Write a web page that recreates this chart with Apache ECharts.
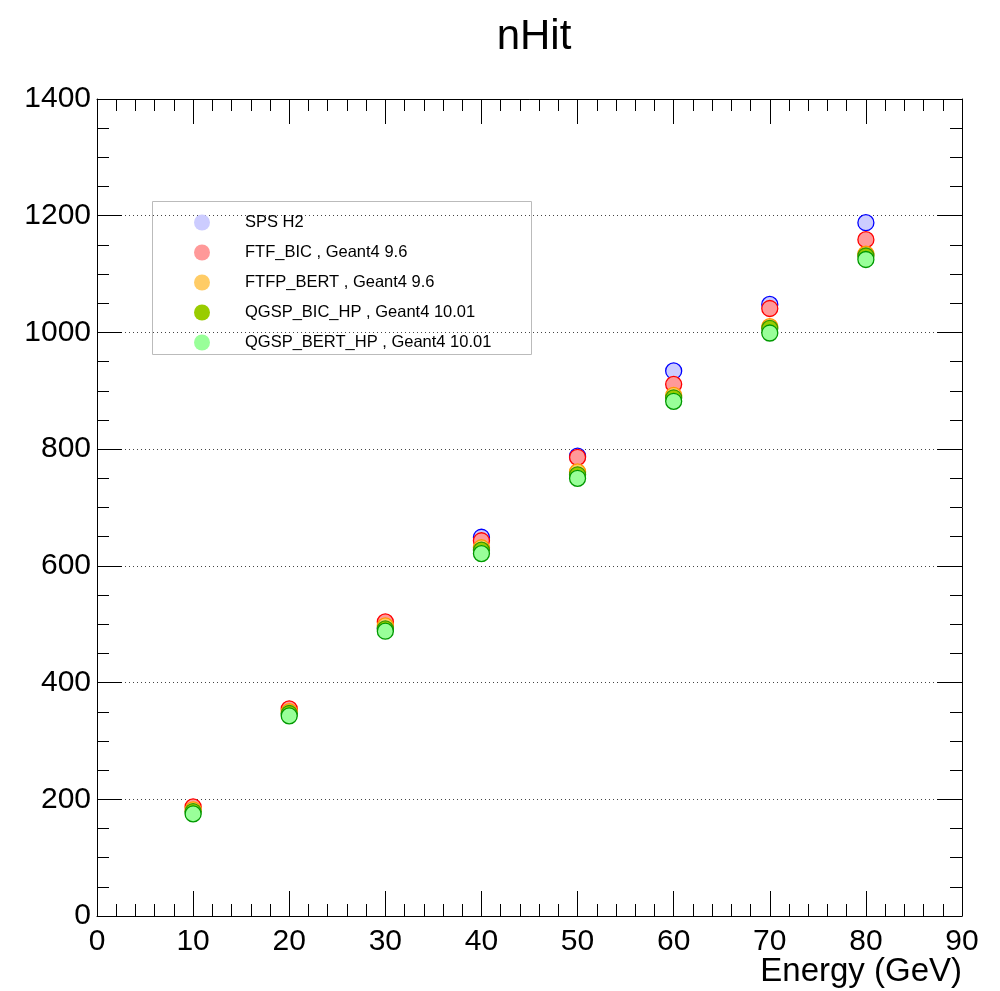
<!DOCTYPE html>
<html><head><meta charset="utf-8">
<script src="https://cdn.jsdelivr.net/npm/echarts@6/dist/echarts.min.js"></script>
<style>html,body{margin:0;padding:0;background:#fff}#c{width:1000px;height:991px}</style>
</head><body><div id="c"></div>
<script>
var energies = [10, 20, 30, 40, 50, 60, 70, 80];
var seriesNames = ['SPS H2', 'FTF_BIC , Geant4 9.6', 'FTFP_BERT , Geant4 9.6', 'QGSP_BIC_HP , Geant4 10.01', 'QGSP_BERT_HP , Geant4 10.01'];
var spsH2      = [null, null, 493, 649, 788, 934, 1048, 1188];
var ftfBic     = [187, 355, 504, 643, 786, 911, 1041, 1159];
var ftfpBert   = [182, 350, 497, 631, 761, 892, 1010, 1134];
var qgspBicHp  = [179, 347, 492, 627, 756, 888, 1007, 1131];
var qgspBertHp = [175, 343, 488, 621, 750, 882, 999, 1125];
var xAxisTitle = 'Energy (GeV)';
var fills   = ['#ccccff', '#ff9999', '#ffcc66', '#99cc00', '#99ff99'];
var borders = ['#0000ff', '#ff0000', '#ff9900', '#339900', '#009900'];
var allValues = [spsH2, ftfBic, ftfpBert, qgspBicHp, qgspBertHp];

var font = 'Liberation Sans, Arial, Helvetica, sans-serif';
var chart = echarts.init(document.getElementById('c'));
var series = allValues.map(function (vals, i) {
  return {
    name: seriesNames[i], type: 'scatter', symbol: 'circle', symbolSize: 16,
    itemStyle: { color: fills[i], borderColor: borders[i], borderWidth: 1.3, opacity: 1 },
    data: energies.map(function (e, j) { return vals[j] == null ? null : [e, vals[j]]; }),
    z: 3 + i
  };
});
var axisLine = { show: true, onZero: false, lineStyle: { color: '#000', width: 1 } };
var tick = { inside: true, length: 25, lineStyle: { color: '#000' } };
var minor = function (n) { return { show: true, splitNumber: n, length: 12, lineStyle: { color: '#000' } }; };
chart.setOption({
  animation: false,
  title: { text: 'nHit', left: 529, textAlign: 'center', top: 11, textStyle: { fontFamily: font, fontSize: 42, fontWeight: 'normal', color: '#000' } },
  legend: {
    orient: 'vertical', left: 189, top: 209, itemWidth: 16, itemHeight: 16, itemGap: 13,
    icon: 'circle', data: seriesNames,
    itemStyle: { borderWidth: 0 },
    textStyle: { fontFamily: font, fontSize: 16.5, color: '#000', padding: [0, 0, 0, 30] }
  },
  graphic: [
    { type: 'rect', left: 150, top: 199, shape: { width: 379, height: 153 }, style: { fill: 'none', stroke: '#bbb', lineWidth: 1 }, z: 0 },
    { type: 'text', x: 962, y: 972, style: { text: xAxisTitle, font: '33px ' + font, fill: '#000', textAlign: 'right', textVerticalAlign: 'middle' }, z: 10 }
  ],
  grid: { left: 97, right: 38, top: 99, bottom: 75, containLabel: false, outerBoundsMode: 'none' },
  xAxis: [{
    type: 'value', min: 0, max: 90, interval: 10,
    axisLine: axisLine, axisTick: tick, minorTick: minor(5),
    axisLabel: { fontFamily: font, fontSize: 30, color: '#000', margin: 11 },
    splitLine: { show: false }
  }, {
    type: 'value', position: 'top', min: 0, max: 90, interval: 10,
    axisLine: axisLine, axisTick: tick, minorTick: minor(5),
    axisLabel: { show: false }, splitLine: { show: false }
  }],
  yAxis: [{
    type: 'value', min: 0, max: 1400, interval: 200,
    axisLine: axisLine, axisTick: tick, minorTick: minor(4),
    axisLabel: { fontFamily: font, fontSize: 30, color: '#000', margin: 6, formatter: function (v) { return String(v); } },
    splitLine: { show: true, lineStyle: { color: '#444', type: [1, 3], width: 1 } }
  }, {
    type: 'value', position: 'right', min: 0, max: 1400, interval: 200,
    axisLine: axisLine, axisTick: tick, minorTick: minor(4),
    axisLabel: { show: false }, splitLine: { show: false }
  }],
  series: series
});
</script></body></html>
